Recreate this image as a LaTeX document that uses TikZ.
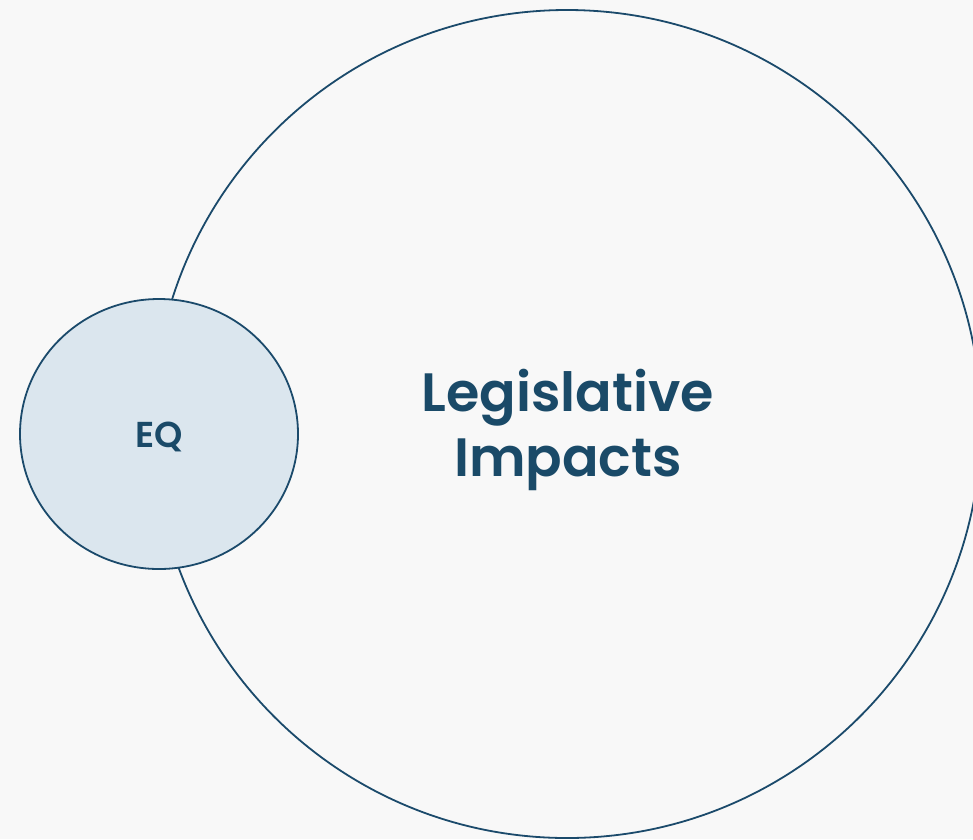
\documentclass[tikz,border=0pt]{standalone}
\usepackage{fontspec}
\setmainfont{Poppins}[BoldFont={Poppins SemiBold}]
\usetikzlibrary{shapes.geometric}
\definecolor{bgc}{HTML}{F8F8F8}
\definecolor{linec}{HTML}{1B4A6B}
\definecolor{txtc}{HTML}{1A4A68}
\definecolor{fillc}{HTML}{DBE6EE}
\tikzset{
  bigcirc/.style={circle, draw=linec, line width=1.8pt, minimum size=828pt, inner sep=0pt},
  smallcirc/.style={ellipse, draw=linec, fill=fillc, line width=1.8pt, minimum width=278pt, minimum height=270pt, inner sep=0pt},
  bigtxt/.style={text=txtc, font=\fontsize{54}{65}\selectfont\bfseries, align=center},
  smalltxt/.style={text=txtc, font=\fontsize{36}{40}\selectfont\bfseries}
}
\begin{document}
\begin{tikzpicture}[x=1pt,y=-1pt]
\fill[bgc] (0,0) rectangle (973,839);
\useasboundingbox (0,0) rectangle (973,839);
\begin{scope}
\clip (0,0) rectangle (973,839);
\node[bigcirc] (big) at (567,424) {};
\node[smallcirc] (eq) at (159,434) {};
\end{scope}
\node[bigtxt] (lt) at (568,430) {Legislative\\Impacts};
\node[smalltxt] (eqt) at (159,437) {EQ};
\end{tikzpicture}
\end{document}
